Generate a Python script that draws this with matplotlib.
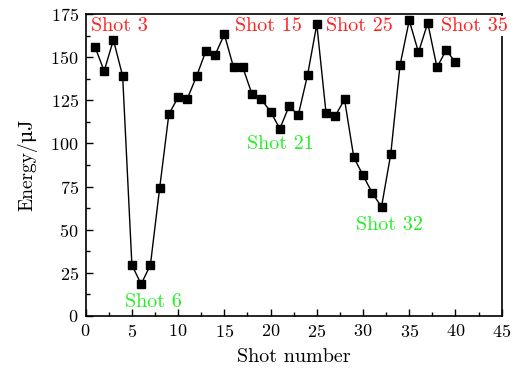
import numpy as np
import matplotlib.pyplot as plt
from matplotlib.ticker import MultipleLocator

plt.rcParams['font.family'] = ['cmr10', 'DejaVu Serif']
plt.rcParams['axes.formatter.use_mathtext'] = True

# pulse energy per shot
shots = np.arange(1, 41)
energy = [156, 142, 160, 139, 29.5, 18.5, 29.5, 74, 117, 126.7,
          126, 139, 153.5, 151.3, 163.2, 144, 144, 128.4, 125.5, 118.4,
          108.5, 121.5, 116.5, 139.6, 169, 117.6, 116, 125.5, 92, 81.5,
          71.3, 63.2, 93.8, 145.2, 171.3, 152.8, 169.8, 144.1, 154.1, 147]

# annotations: (text, x, y, colour)
notes = [("Shot 3", 0.6, 168, "#ff2020"),
         ("Shot 15", 16.1, 168, "#ff2020"),
         ("Shot 25", 26.0, 168, "#ff2020"),
         ("Shot 35", 38.4, 168, "#ff2020"),
         ("Shot 6", 4.2, 8, "#22ee22"),
         ("Shot 21", 17.4, 99.6, "#22ee22"),
         ("Shot 32", 29.2, 52.5, "#22ee22")]

fig = plt.figure(figsize=(5.18, 3.74), dpi=100)
ax = fig.add_axes([0.1654, 0.1551, 0.8031, 0.8075])

ax.plot(shots, energy, 'k-', lw=1.0, marker='s', ms=5.3, mfc='k', mec='k')

for txt, x, y, c in notes:
    kw = {}
    if txt == "Shot 35":
        kw['bbox'] = dict(facecolor='white', edgecolor='none', pad=1.0)
    ax.text(x, y, txt, color=c, fontsize=14.5,
            va='center', ha='left', zorder=5, clip_on=False, **kw)

ax.set_xlim(0, 45)
ax.set_ylim(0, 175)
ax.xaxis.set_major_locator(MultipleLocator(5))
ax.xaxis.set_minor_locator(MultipleLocator(2.5))
ax.yaxis.set_major_locator(MultipleLocator(25))
ax.yaxis.set_minor_locator(MultipleLocator(12.5))
ax.tick_params(which='both', direction='in', labelsize=13, width=1.0)
ax.tick_params(which='major', length=5, pad=5)
ax.tick_params(which='minor', length=3)
for s in ax.spines.values():
    s.set_linewidth(1.2)

ax.set_xlabel("Shot number", fontsize=14.5, labelpad=6)
ax.set_ylabel("Energy/\u03bcJ", fontsize=14, labelpad=9)

fig.savefig("out.png", dpi=100)
